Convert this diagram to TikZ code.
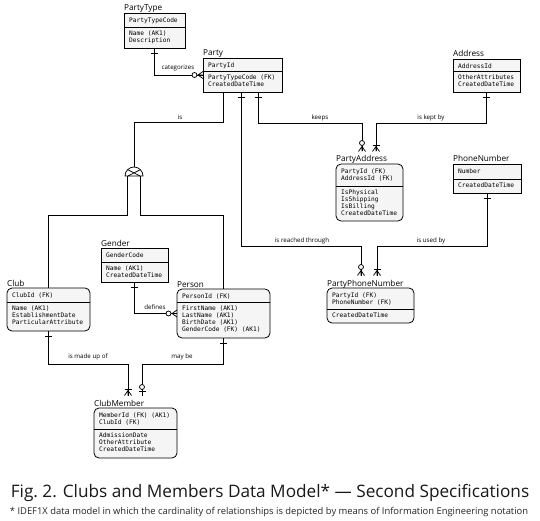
\documentclass[tikz,border=0pt]{standalone}
\usepackage{fontspec}
\setmainfont{Open Sans}
\newfontfamily\monof{DejaVu Sans Mono}
\usetikzlibrary{calc}

\tikzset{
  ent/.style={draw=black, line width=0.8pt, fill=black!4, inner sep=0pt, outer sep=0pt},
  dep/.style={ent, rounded corners=5pt},
  ttl/.style={font=\fontsize{8.2}{10}\selectfont, inner sep=0pt, anchor=base west},
  att/.style={font=\monof\fontsize{6.2}{7}\selectfont, align=left, inner sep=0pt, anchor=north west},
  lbl/.style={font=\fontsize{6.2}{7}\selectfont, inner sep=0.5pt},
  conn/.style={line width=0.75pt},
  zmany/.pic={\draw[conn] (-3.5,0) -- (0,-5) -- (3.5,0) (0,-5) -- (0,0);
              \draw[conn, fill=white] (0,-8.5) circle[radius=2.5];},
  omany/.pic={\draw[conn] (-3.5,0) -- (0,-5) -- (3.5,0) (0,-5) -- (0,0);
              \draw[conn] (-3.5,-6) -- (3.5,-6);},
  zone/.pic={\draw[conn] (-3.5,-4) -- (3.5,-4);
             \draw[conn, fill=white] (0,-8.5) circle[radius=2.5];},
  onetick/.pic={\draw[conn] (-3.5,5) -- (3.5,5);}
}

% #1 style, #2 name, #3 x, #4 top y, #5 width, #6 height, #7 divider offset, #8 title, #9 keys
\newcommand\ent[9]{%
  \node[#1, minimum width=#5pt, minimum height=#6pt, anchor=north west] (#2) at (#3,#4) {};
  \draw[conn] (#3,#4+#7) -- (#3+#5,#4+#7);
  \coordinate (#2-d) at (#3,#4+#7);
  \coordinate (#2-in) at (#3,#4-12.5);
  \node[ttl] (#2-t) at (#3,#4-2) {#8};
  \node[att] (#2-k) at (#3+5,#4+4.2) {#9};
}
\newcommand\entattr[2]{\node[att] (#1-a) at ($(#1-d)+(5,4)$) {#2};}

\begin{document}
\begin{tikzpicture}[x=1pt,y=-1pt]
\fill[white] (0,0) rectangle (540,521);
\useasboundingbox (0,0) rectangle (540,521);

% entities
\ent{ent}{ptype}{124}{13}{61}{35}{14}{PartyType}{PartyTypeCode}
\entattr{ptype}{Name (AK1)\\Description}
\ent{ent}{party}{203}{58}{79}{34}{13}{Party}{PartyId}
\entattr{party}{PartyTypeCode (FK)\\CreatedDateTime}
\ent{ent}{address}{453}{59}{67}{33}{12}{Address}{AddressId}
\entattr{address}{OtherAttributes\\CreatedDateTime}
\ent{dep}{paddr}{336}{164}{67}{57}{22}{PartyAddress}{PartyId (FK)\\AddressId (FK)}
\entattr{paddr}{IsPhysical\\IsShipping\\IsBilling\\CreatedDateTime}
\ent{ent}{phone}{453}{164}{68}{29}{15}{PhoneNumber}{Number}
\entattr{phone}{CreatedDateTime}
\ent{ent}{gender}{101}{248}{67}{34}{14}{Gender}{GenderCode}
\entattr{gender}{Name (AK1)\\CreatedDateTime}
\ent{dep}{club}{7}{288}{83}{43}{14}{Club}{ClubId (FK)}
\entattr{club}{Name (AK1)\\EstablishmentDate\\ParticularAttribute}
\ent{dep}{person}{177}{289}{93}{49}{13}{Person}{PersonId (FK)}
\entattr{person}{FirstName (AK1)\\LastName (AK1)\\BirthDate (AK1)\\GenderCode (FK) (AK1)}
\ent{dep}{pphone}{327}{288}{87}{35}{21}{PartyPhoneNumber}{PartyId (FK)\\PhoneNumber (FK)}
\entattr{pphone}{CreatedDateTime}
\ent{dep}{cmember}{94}{408}{83}{50}{21}{ClubMember}{MemberId (FK) (AK1)\\ClubId (FK)}
\entattr{cmember}{AdmissionDate\\OtherAttribute\\CreatedDateTime}

% subtype symbol
\coordinate (cattop) at (134,167);
\coordinate (catl) at (127,176);
\coordinate (catr) at (140,176);
\draw[conn] (125,176) arc[start angle=180, end angle=360, radius=9] -- cycle;
\draw[conn] (127.6,169.6) -- (140,176) (140.4,169.6) -- (128,176);

% connectors
\draw[conn] (ptype.south) |- (party.west);
\pic at (ptype.south) {onetick};
\pic[rotate=90] at (party.west) {zmany};
\node[lbl] (l1) at (178,68) {categorizes};

\draw[conn] (party.south -| 223,0) -- ++(0,30.5) -| (cattop);
\node[lbl] (l2) at (180,117) {is};
\draw[conn] (catl) -- ++(0,39) -| (club.north);
\draw[conn] (catr) -- ++(0,39) -| (person.north);

\draw[conn] (party.south -| 258,0) -- ++(0,31) -| (paddr-in -| 362,0);
\pic at (party.south -| 258,0) {onetick};
\pic at (paddr-in -| 362,0) {zmany};
\node[lbl] (l3) at (320,118) {keeps};

\draw[conn] (address.south) -- ++(0,31) -| (paddr-in -| 376,0);
\pic at (address.south) {onetick};
\pic at (paddr-in -| 376,0) {omany};
\node[lbl] (l4) at (431,118) {is kept by};

\draw[conn] (party.south -| 241,0) -- (241,246) -| (pphone-in -| 361,0);
\pic at (party.south -| 241,0) {onetick};
\pic at (pphone-in -| 361,0) {zmany};
\node[lbl] (l5) at (302,241) {is reached through};

\draw[conn] (phone.south) -- ++(0,53) -| (pphone-in -| 377,0);
\pic at (phone.south) {onetick};
\pic at (pphone-in -| 377,0) {omany};
\node[lbl] (l6) at (431,241) {is used by};

\draw[conn] (gender.south) |- (person.west);
\pic at (gender.south) {onetick};
\pic[rotate=90] at (person.west) {zmany};
\node[lbl] (l7) at (155,307) {defines};

\draw[conn] (club.south) -- ++(0,33) -| (cmember-in -| 128,0);
\pic at (club.south) {onetick};
\pic at (cmember-in -| 128,0) {omany};
\node[lbl] (l8) at (88,357) {is made up of};

\draw[conn] (person.south) -- ++(0,26) -| (cmember-in -| 142,0);
\pic at (person.south) {onetick};
\pic at (cmember-in -| 142,0) {zone};
\node[lbl] (l9) at (182,357) {may be};

% caption
\node[font=\fontsize{17.2}{21}\selectfont, text=black!90, inner sep=0pt] (cap) at (270,493) {Fig.~2. Clubs and Members Data Model* — Second Specifications};
\node[font=\fontsize{9.4}{11}\selectfont, text=black!85, inner sep=0pt] (note) at (269,512) {* IDEF1X data model in which the cardinality of relationships is depicted by means of Information Engineering notation};
\end{tikzpicture}
\end{document}
